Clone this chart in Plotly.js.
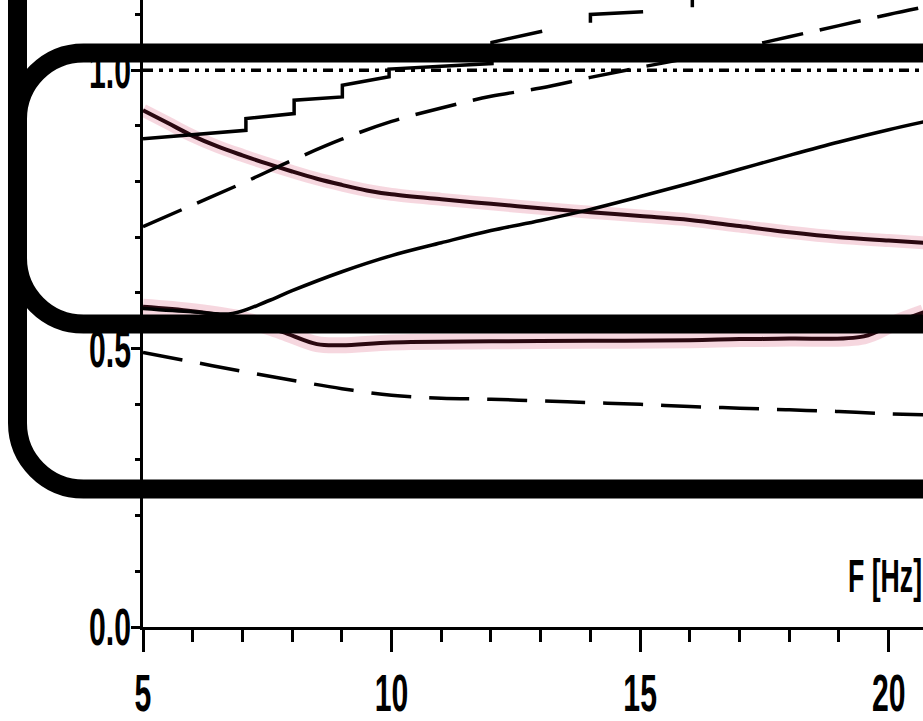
<!DOCTYPE html>
<html>
<head>
<meta charset="utf-8">
<script src="https://cdn.plot.ly/plotly-3.0.1.min.js"></script>
<style>html,body{margin:0;padding:0;background:#fff;}#chart{width:923px;height:721px;}</style>
</head>
<body>
<div id="chart"></div>
<script>
// ---- data ----
// dash-dot reference level
const refX = [5, 20.7];
const refY = [1.0, 1.0];

// staircase (solid, with gaps where the scan shows none)
const stairX = [5, 7.07, 7.07, 8.04, 8.04, 9.01, 9.01, 9.95, 9.95, 12.02, 12.02, 13.03, null, 14.0, 14.0, 15.06, null, 16.05, 16.05];
const stairY = [0.877, 0.892, 0.913, 0.922, 0.946, 0.952, 0.973, 0.988, 1.002, 1.012, 1.05, 1.07, null, 1.085, 1.10, 1.105, null, 1.113, 1.14];

// upper rising dashed curve
const upDashX = [5, 6, 7, 8, 9, 10, 11, 12, 13, 14, 15, 16, 17, 18, 19, 20, 20.7];
const upDashY = [0.719, 0.758, 0.797, 0.838, 0.876, 0.908, 0.932, 0.953, 0.968, 0.987, 1.005, 1.022, 1.040, 1.060, 1.080, 1.100, 1.113];

// lower falling dashed curve
const loDashX = [5, 6, 7, 8, 9, 10, 11, 12, 13, 14, 15, 16, 17, 18, 19, 20, 20.7];
const loDashY = [0.493, 0.476, 0.459, 0.443, 0.428, 0.416, 0.411, 0.409, 0.406, 0.403, 0.400, 0.396, 0.393, 0.390, 0.387, 0.383, 0.381];

// falling solid curve (dark, pink halo)
const fallX = [5, 5.5, 6, 6.5, 7, 7.5, 8, 8.5, 9, 9.5, 10, 11, 12, 13, 14, 15, 16, 17, 18, 19, 20, 20.7];
const fallY = [0.928, 0.905, 0.882, 0.863, 0.847, 0.832, 0.818, 0.805, 0.794, 0.784, 0.777, 0.768, 0.760, 0.752, 0.745, 0.738, 0.731, 0.720, 0.709, 0.700, 0.694, 0.690];

// rising solid curve
const riseX = [5, 6, 6.8, 7.5, 8, 9, 10, 11, 12, 13, 14, 15, 16, 17, 18, 19, 20, 20.7];
const riseY = [0.572, 0.566, 0.563, 0.585, 0.604, 0.638, 0.667, 0.690, 0.712, 0.730, 0.750, 0.773, 0.797, 0.822, 0.847, 0.871, 0.893, 0.907];

// pink band curve near 0.5
const bandX = [5, 6, 7, 7.8, 8.5, 9, 10, 12, 14, 16, 17, 18, 19.5, 20.1, 20.7];
const bandY = [0.575, 0.567, 0.553, 0.530, 0.508, 0.506, 0.511, 0.513, 0.514, 0.515, 0.517, 0.518, 0.522, 0.545, 0.565];

// axis ticks
const xTick0 = 5, xDtick = 5, xMinor = 1;
const yTick0 = 0, yDtick = 0.5, yMinor = 0.1;
const xRange = [5, 20.69];
const yRange = [0, 1.126];

// ---- figure ----
const FONT = "'Liberation Sans', Arial, sans-serif";
const halo = 'rgba(222,110,140,0.28)';
const core = '#2a0810';

const traces = [
  {x: bandX, y: bandY, mode: 'lines', line: {color: halo, width: 16, shape: 'spline'}},
  {x: fallX, y: fallY, mode: 'lines', line: {color: halo, width: 13, shape: 'spline'}},
  {x: bandX, y: bandY, mode: 'lines', line: {color: core, width: 4, shape: 'spline'}},
  {x: fallX, y: fallY, mode: 'lines', line: {color: core, width: 4, shape: 'spline'}},
  {x: riseX, y: riseY, mode: 'lines', line: {color: '#000', width: 3.5, shape: 'spline'}},
  {x: upDashX, y: upDashY, mode: 'lines', line: {color: '#000', width: 3.5, dash: '42px,17px', shape: 'spline'}},
  {x: loDashX, y: loDashY, mode: 'lines', line: {color: '#000', width: 3.5, dash: '40px,18px', shape: 'spline'}},
  {x: refX, y: refY, mode: 'lines', line: {color: '#000', width: 3.5, dash: '10px,6px,4px,6px,4px,6px'}},
  {x: stairX, y: stairY, mode: 'lines', connectgaps: false, line: {color: '#000', width: 3.5}}
];

// annotation frames (pixel geometry converted to paper coords)
const PL = 143, PW = 780, PH = 627;
function P(px, py) { return ((px - PL) / PW).toFixed(5) + ',' + ((PH - py) / PH).toFixed(5); }
function roundFrame(xl, yt, yb, xr, r) {
  const k = 0.5523 * r;
  return 'M' + P(xr, yt) + ' L' + P(xl + r, yt) +
         ' C' + P(xl + r - k, yt) + ' ' + P(xl, yt + r - k) + ' ' + P(xl, yt + r) +
         ' L' + P(xl, yb - r) +
         ' C' + P(xl, yb - r + k) + ' ' + P(xl + r - k, yb) + ' ' + P(xl + r, yb) +
         ' L' + P(xr, yb);
}
const shapes = [
  {type: 'path', xref: 'paper', yref: 'paper', layer: 'above', path: roundFrame(17.5, -200, 489, 1100, 66), line: {color: '#000', width: 19}, fillcolor: 'rgba(0,0,0,0)'},
  {type: 'path', xref: 'paper', yref: 'paper', layer: 'above', path: roundFrame(17.5, 53, 324, 1100, 66), line: {color: '#000', width: 19}, fillcolor: 'rgba(0,0,0,0)'}
];

const TF = {family: FONT, size: 52, color: '#000', weight: 'bold'};
const layout = {
  width: 923, height: 721, autosize: false,
  margin: {l: PL, r: 0, t: 0, b: 94, pad: 0},
  paper_bgcolor: '#ffffff', plot_bgcolor: '#ffffff',
  showlegend: false, hovermode: false,
  xaxis: {
    range: xRange, tick0: xTick0, dtick: xDtick, ticks: 'outside', ticklen: 22, tickwidth: 3, tickcolor: '#000',
    showline: true, linewidth: 3, linecolor: '#000', showgrid: false, zeroline: false,
    tickfont: TF,
    minor: {dtick: xMinor, tick0: xTick0, ticks: 'outside', ticklen: 12, tickwidth: 3, tickcolor: '#000', showgrid: false}
  },
  yaxis: {
    range: yRange, tick0: yTick0, dtick: yDtick, tickformat: '.1f', ticks: 'outside', ticklen: 9, tickwidth: 3, tickcolor: '#000',
    showline: true, linewidth: 3, linecolor: '#000', showgrid: false, zeroline: false,
    tickfont: TF,
    minor: {dtick: yMinor, tick0: yTick0, ticks: 'outside', ticklen: 5, tickwidth: 3, tickcolor: '#000', showgrid: false}
  },
  annotations: [
    {xref: 'paper', yref: 'paper', x: (846 - PL) / PW, y: (PH - 576) / PH, xanchor: 'left', yanchor: 'middle', showarrow: false,
     text: 'F [Hz]', font: {family: FONT, size: 46, color: '#000', weight: 'bold'}}
  ],
  shapes: shapes
};

// narrow the bold labels like the condensed type of the scan
function squeeze(sel, sx, anchor, target) {
  document.querySelectorAll(sel).forEach(function (t) {
    const b = t.getBBox();
    const ax = anchor === 'end' ? b.x + b.width : anchor === 'start' ? b.x : b.x + b.width / 2;
    const prev = t.getAttribute('transform') || '';
    t.setAttribute('transform', prev + ' translate(' + ax + ',0) scale(' + sx + ',1) translate(' + (-ax) + ',0)');
    if (target) {
      const r = t.getBoundingClientRect();
      let dx = 0, dy = 0;
      if (target.right !== undefined) dx = target.right - r.right;
      if (target.left !== undefined) dx = target.left - r.left;
      if (target.top !== undefined) dy = target.top - r.top;
      t.setAttribute('transform', 'translate(' + dx + ',' + dy + ') ' + t.getAttribute('transform'));
    }
  });
}

Plotly.newPlot('chart', traces, layout, {displayModeBar: false, staticPlot: true}).then(function () {
  squeeze('.xtick text', 0.58, 'middle', {top: 665});
  squeeze('.ytick text', 0.58, 'end', {right: 131});
  squeeze('.annotation-text', 0.58, 'start', {left: 848});
});
</script>
</body>
</html>
